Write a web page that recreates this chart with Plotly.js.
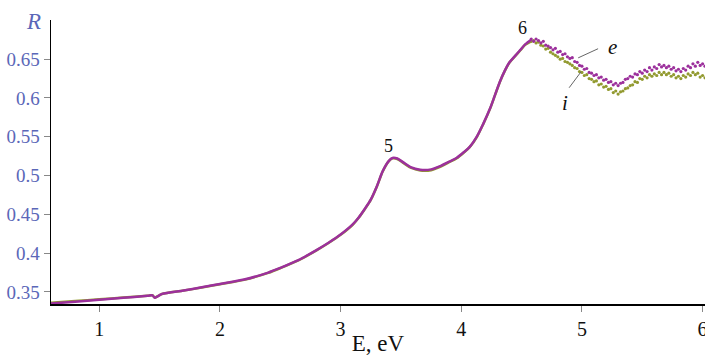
<!DOCTYPE html>
<html>
<head>
<meta charset="utf-8">
<script src="https://cdn.plot.ly/plotly-3.0.1.min.js"></script>
<style>
  html, body { margin: 0; padding: 0; background: #fff; }
  #chart { width: 705px; height: 356px; }
</style>
</head>
<body>
<div id="chart"></div>
<script>
// reflectance spectra, E in eV

// smooth part (both curves nearly on top of each other)
const energySmooth = [0.6, 0.8, 1.0, 1.2, 1.4, 1.44, 1.46, 1.48, 1.52, 1.7, 1.85, 2.0, 2.2, 2.4, 2.5, 2.65,
  2.8, 2.9, 3.0, 3.1, 3.15, 3.2, 3.25, 3.3, 3.35, 3.4, 3.43, 3.47, 3.52, 3.58, 3.66, 3.75, 3.83, 3.9, 3.96,
  4.02, 4.07, 4.13, 4.18, 4.24, 4.28, 4.32, 4.36, 4.4, 4.45, 4.49, 4.53, 4.58];

const reflESmooth = [0.335, 0.3375, 0.340, 0.3425, 0.345, 0.3457, 0.3425, 0.344, 0.3475, 0.352, 0.356, 0.3603,
  0.366, 0.375, 0.381, 0.391, 0.404, 0.4135, 0.424, 0.437, 0.446, 0.457, 0.469, 0.486, 0.506, 0.519, 0.5227,
  0.522, 0.517, 0.511, 0.5076, 0.508, 0.5125, 0.518, 0.5227, 0.530, 0.537, 0.5505, 0.566, 0.587, 0.604,
  0.621, 0.635, 0.646, 0.655, 0.662, 0.669, 0.675];

const reflISmooth = [0.3362, 0.3383, 0.3405, 0.3428, 0.3452, 0.3458, 0.3428, 0.3442, 0.3474, 0.3518, 0.3557,
  0.3600, 0.3656, 0.3746, 0.3806, 0.3906, 0.4036, 0.4131, 0.4236, 0.4366, 0.4456, 0.4566, 0.4686, 0.4856,
  0.5056, 0.5186, 0.5222, 0.5214, 0.5162, 0.5102, 0.5066, 0.5070, 0.5117, 0.5172, 0.5220, 0.5294, 0.5366,
  0.5500, 0.5656, 0.5866, 0.6036, 0.6206, 0.6346, 0.6458, 0.6545, 0.6615, 0.6685, 0.673];

// noisy high-energy part (scattered points)
const energyNoisy = [4.58, 4.60, 4.62, 4.64, 4.66, 4.68, 4.70, 4.72, 4.74, 4.76, 4.78, 4.80, 4.82, 4.84, 4.86,
  4.88, 4.90, 4.92, 4.94, 4.96, 4.98, 5.00, 5.02, 5.04, 5.06, 5.08, 5.10, 5.12, 5.14, 5.16, 5.18, 5.20, 5.22,
  5.24, 5.26, 5.28, 5.30, 5.32, 5.34, 5.36, 5.38, 5.40, 5.42, 5.44, 5.46, 5.48, 5.50, 5.52, 5.54, 5.56, 5.58,
  5.60, 5.62, 5.64, 5.66, 5.68, 5.70, 5.72, 5.74, 5.76, 5.78, 5.80, 5.82, 5.84, 5.86, 5.88, 5.90, 5.92, 5.94,
  5.96, 5.98, 6.00, 6.02];

const reflENoisy = [0.676, 0.673, 0.676, 0.674, 0.671, 0.673, 0.668, 0.667, 0.665, 0.662, 0.664, 0.659, 0.660,
  0.656, 0.657, 0.653, 0.651, 0.652, 0.647, 0.646, 0.642, 0.641, 0.637, 0.638, 0.633, 0.632, 0.629, 0.630,
  0.626, 0.627, 0.623, 0.624, 0.620, 0.621, 0.617, 0.619, 0.616, 0.619, 0.620, 0.624, 0.625, 0.628, 0.627,
  0.631, 0.630, 0.634, 0.632, 0.636, 0.634, 0.639, 0.636, 0.640, 0.638, 0.643, 0.640, 0.642, 0.639, 0.641,
  0.637, 0.639, 0.635, 0.637, 0.634, 0.638, 0.636, 0.641, 0.639, 0.644, 0.641, 0.646, 0.642, 0.644, 0.641];

const reflINoisy = [0.673, 0.674, 0.671, 0.672, 0.668, 0.667, 0.663, 0.664, 0.659, 0.657, 0.655, 0.653, 0.650,
  0.651, 0.647, 0.646, 0.644, 0.642, 0.639, 0.638, 0.634, 0.633, 0.629, 0.630, 0.625, 0.624, 0.621, 0.622,
  0.617, 0.618, 0.614, 0.615, 0.611, 0.612, 0.607, 0.609, 0.605, 0.608, 0.609, 0.612, 0.613, 0.616, 0.617,
  0.621, 0.620, 0.625, 0.624, 0.628, 0.626, 0.630, 0.628, 0.631, 0.629, 0.633, 0.630, 0.633, 0.630, 0.632,
  0.628, 0.630, 0.626, 0.628, 0.625, 0.629, 0.627, 0.631, 0.629, 0.633, 0.630, 0.632, 0.627, 0.629, 0.626];

const xTicks = [1, 2, 3, 4, 5, 6];
const yTicks = [0.35, 0.4, 0.45, 0.5, 0.55, 0.6, 0.65];
const yTickText = ['0.35', '0.4', '0.45', '0.5', '0.55', '0.6', '0.65'];

const purple = '#9c309c';
const olive = '#929a30';
const tickBlue = '#5b67b8';
const serif = 'Liberation Serif';

function smoothTrace(xs, ys, color) {
  return {
    x: xs, y: ys,
    mode: 'lines',
    line: { color: color, width: 2.5, shape: 'spline', smoothing: 0.8 },
    hoverinfo: 'skip'
  };
}

function dotTrace(xs, ys, color) {
  return {
    x: xs, y: ys,
    mode: 'markers',
    marker: { color: color, size: 3.2 },
    hoverinfo: 'skip'
  };
}

const traces = [
  smoothTrace(energySmooth, reflISmooth, olive),
  dotTrace(energyNoisy, reflINoisy, olive),
  smoothTrace(energySmooth, reflESmooth, purple),
  dotTrace(energyNoisy, reflENoisy, purple)
];

const layout = {
  width: 705,
  height: 356,
  margin: { l: 51, r: 0, t: 20, b: 52 },
  showlegend: false,
  font: { family: serif, size: 19, color: '#111' },
  paper_bgcolor: '#fff',
  plot_bgcolor: '#fff',
  xaxis: {
    range: [0.6, 6.02],
    tickvals: xTicks,
    ticks: 'outside',
    ticklen: 6,
    tickcolor: '#888',
    ticklabeloverflow: 'allow',
    showgrid: false,
    zeroline: false,
    showline: true,
    linecolor: '#000',
    linewidth: 1.5,
    tickfont: { family: serif, size: 20, color: '#111' },
    title: { text: 'E, eV', font: { family: serif, size: 23, color: '#111' }, standoff: 0 }
  },
  yaxis: {
    range: [0.3345, 0.7005],
    tickvals: yTicks,
    ticktext: yTickText,
    ticks: 'outside',
    ticklen: 6,
    tickcolor: '#888',
    showgrid: false,
    zeroline: false,
    showline: true,
    linecolor: '#000',
    linewidth: 1.5,
    tickfont: { family: serif, size: 19, color: tickBlue }
  },
  annotations: [
    { xref: 'paper', yref: 'paper', x: -0.012, y: 1.045, xanchor: 'right', text: '<i>R</i>', showarrow: false,
      font: { family: serif, size: 23, color: tickBlue } },
    { x: 3.394, y: 0.5385, text: '5', showarrow: false, font: { family: serif, size: 18, color: '#111' } },
    { x: 4.505, y: 0.6906, text: '6', showarrow: false, font: { family: serif, size: 18, color: '#111' } },
    { x: 5.25, y: 0.666, text: '<i>e</i>', showarrow: false, font: { family: serif, size: 21, color: '#111' } },
    { x: 4.86, y: 0.594, text: '<i>i</i>', showarrow: false, font: { family: serif, size: 21, color: '#111' } }
  ],
  shapes: [
    { type: 'line', x0: 5.134, y0: 0.6635, x1: 4.969, y1: 0.6517, line: { color: '#666', width: 1 } },
    { type: 'line', x0: 4.894, y0: 0.6132, x1: 4.993, y1: 0.6338, line: { color: '#666', width: 1 } }
  ]
};

Plotly.newPlot('chart', traces, layout, { staticPlot: true });
</script>
</body>
</html>
